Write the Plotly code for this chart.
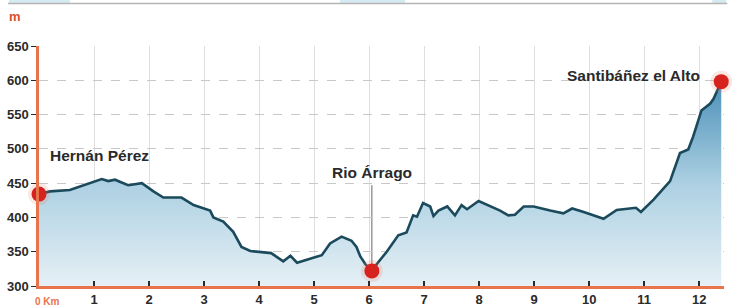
import plotly.graph_objects as go

km = [0, 0.2, 0.56, 0.8, 0.99, 1.14, 1.26, 1.38, 1.62, 1.87, 2.08, 2.26, 2.59, 2.81, 3.11, 3.17,
      3.35, 3.53, 3.68, 3.84, 4.22, 4.44, 4.57, 4.69, 5.14, 5.29, 5.5, 5.68, 5.77, 5.84, 5.93,
      6.05, 6.14, 6.32, 6.53, 6.68, 6.8, 6.87, 6.98, 7.11, 7.17, 7.26, 7.42, 7.56, 7.68, 7.78,
      7.99, 8.2, 8.38, 8.53, 8.65, 8.81, 8.99, 9.29, 9.53, 9.69, 9.9, 10.26, 10.5, 10.85, 10.94,
      11.17, 11.47, 11.65, 11.8, 11.89, 12.04, 12.2, 12.26, 12.4]
elev = [434, 438, 440, 447, 452, 456, 453, 455, 447, 450, 438, 429, 429, 418, 410, 400,
        394, 379, 357, 351, 348, 336, 344, 334, 345, 362, 372, 366, 357, 343, 332,
        322, 332, 350, 374, 378, 403, 401, 421, 416, 402, 410, 416, 403, 418, 412,
        424, 417, 410, 403, 404, 416, 416, 410, 406, 413, 408, 398, 411, 414, 408,
        426, 453, 494, 499, 518, 556, 566, 573, 598]

places = ["Hernán Pérez", "Rio Árrago", "Santibáñez el Alto"]
place_km = [0, 6.05, 12.4]
place_elev = [434, 322, 598]

y_ticks = [300, 350, 400, 450, 500, 550, 600, 650]
x_ticks = list(range(0, 13))
x_labels = [""] + [str(i) for i in range(1, 13)]

FONT = "Liberation Sans, Arial, sans-serif"
ORANGE = "#e8744c"
DARK = "#2a2a2a"

fig = go.Figure()

fig.add_trace(go.Scatter(
    x=km, y=elev, mode="lines",
    line=dict(color="#1b4a5c", width=2.6),
    fill="tozeroy",
    fillgradient=dict(type="vertical",
                      colorscale=[[0, "#e6f0f6"], [0.5, "#acd0e2"], [1, "#4a8fb8"]],
                      start=300, stop=600),
    hoverinfo="skip", showlegend=False,
))

# glow + dots
fig.add_trace(go.Scatter(
    x=place_km, y=place_elev, mode="markers",
    marker=dict(size=22, color="rgba(240,120,100,0.18)", line=dict(width=0)),
    hoverinfo="skip", showlegend=False, cliponaxis=False,
))
fig.add_trace(go.Scatter(
    x=place_km, y=place_elev, mode="markers",
    marker=dict(size=15, color="#d7231e", line=dict(width=0)),
    hoverinfo="skip", showlegend=False, cliponaxis=False,
))

# connector for Rio Árrago
fig.add_shape(type="line", x0=place_km[1], x1=place_km[1], y0=place_elev[1], y1=447,
              line=dict(color="#666666", width=1), layer="below")

annots = [
    dict(x=0.16, y=491, text=places[0], xanchor="left", yanchor="middle"),
    dict(x=place_km[1], y=465, text=places[1], xanchor="center", yanchor="middle"),
    dict(x=12.05, y=607, text=places[2], xanchor="right", yanchor="middle"),
]
for a in annots:
    fig.add_annotation(**a, showarrow=False,
                       font=dict(family=FONT, size=15.5, color=DARK, weight="bold"))

W = 684.75
fig.add_annotation(x=(33 - 39) / W, y=-0.035, xref="paper", yref="paper", text="0 Km",
                   showarrow=False, xanchor="left", yanchor="top",
                   font=dict(family=FONT, size=10, color=ORANGE, weight="bold"))
fig.add_annotation(x=(7 - 39) / W, y=(286 - 17) / 240, xref="paper", yref="paper", text="m",
                   showarrow=False, xanchor="left", yanchor="middle",
                   font=dict(family=FONT, size=13, color="#d9502a", weight="bold"))

# top frame remnant
fig.add_shape(type="line", xref="paper", yref="paper",
              x0=(8 - 39) / W, x1=(727 - 39) / W, y0=(286 - 3.5) / 240, y1=(286 - 3.5) / 240,
              line=dict(color="#b5b5b5", width=1.5))
for x0p, x1p in [(9, 70), (340, 405), (712, 726)]:
    fig.add_shape(type="rect", xref="paper", yref="paper",
                  x0=(x0p - 39) / W, x1=(x1p - 39) / W, y0=(286 - 3) / 240, y1=(286 + 1) / 240,
                  fillcolor="#d6eaf3", line=dict(width=0), layer="below")

fig.update_layout(
    width=732, height=308,
    margin=dict(l=39, r=8, t=46, b=22),
    paper_bgcolor="white", plot_bgcolor="white",
    font=dict(family=FONT, color=DARK),
    xaxis=dict(range=[0, 12.45], tickvals=x_ticks, ticktext=x_labels,
               ticks="inside", ticklen=5, tickwidth=1.5, tickcolor=DARK,
               tickfont=dict(family=FONT, size=13, color=DARK, weight="bold"),
               showgrid=True, gridcolor="#dedede", gridwidth=1,
               showline=True, linecolor=ORANGE, linewidth=2.5,
               zeroline=False, fixedrange=True, automargin=False),
    yaxis=dict(range=[300, 650], tickvals=y_ticks,
               ticks="outside", ticklen=5, tickwidth=1.2, tickcolor=DARK,
               tickfont=dict(family=FONT, size=13, color=DARK, weight="bold"),
               showgrid=True, gridcolor="#c8c8c8", gridwidth=1, griddash="dash",
               showline=True, linecolor=ORANGE, linewidth=2.5,
               zeroline=False, fixedrange=True, automargin=False),
)

fig.write_html("out.html", config={"displayModeBar": False},
               post_script="document.body.style.margin='0';document.body.style.padding='0';")
